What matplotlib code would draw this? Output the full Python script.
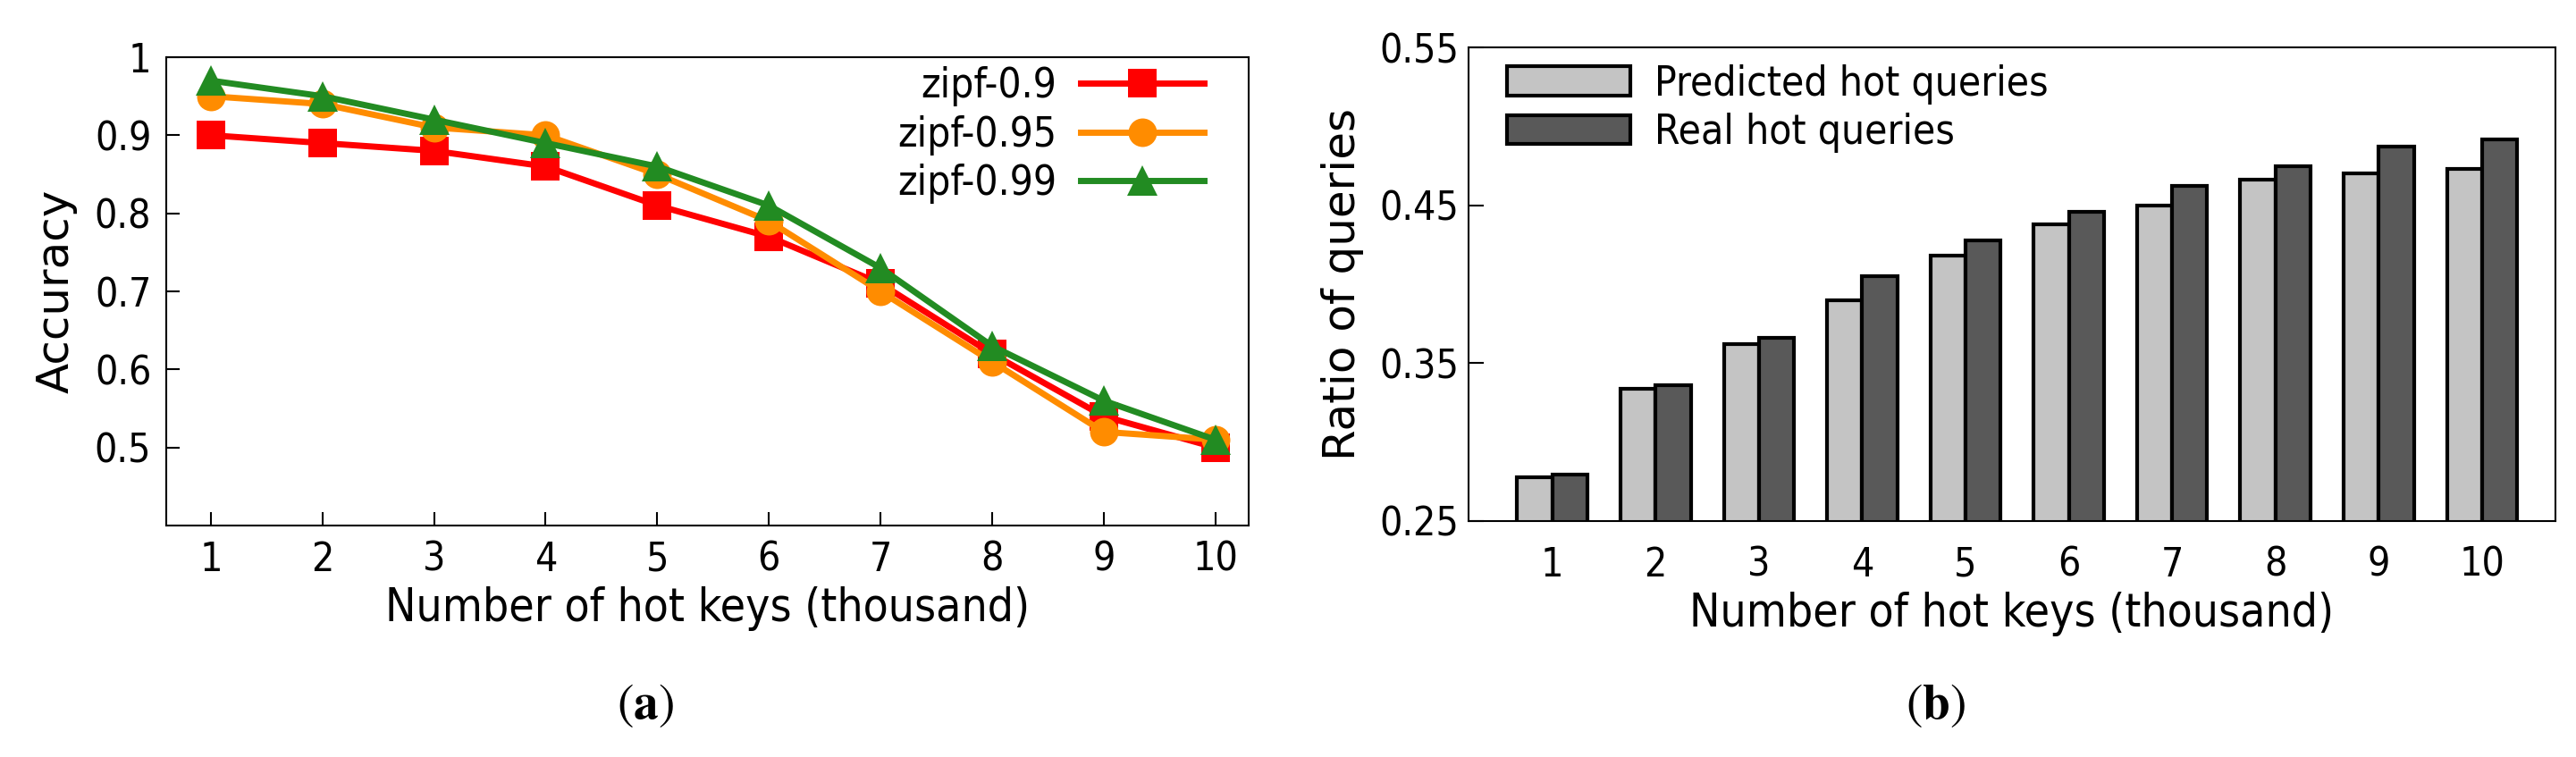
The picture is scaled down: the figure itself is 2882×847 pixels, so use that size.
import numpy as np
import matplotlib
matplotlib.use('Agg')
import matplotlib.pyplot as plt
from matplotlib import font_manager

plt.rcParams['font.family'] = ['DejaVu Sans']
plt.rcParams['mathtext.fontset'] = 'stix'

# data for panel (a)
hotkeys = [1, 2, 3, 4, 5, 6, 7, 8, 9, 10]
zipf_090 = [0.90, 0.89, 0.88, 0.86, 0.81, 0.77, 0.71, 0.62, 0.54, 0.50]
zipf_095 = [0.95, 0.94, 0.91, 0.90, 0.85, 0.79, 0.70, 0.61, 0.52, 0.51]
zipf_099 = [0.97, 0.95, 0.92, 0.89, 0.86, 0.81, 0.73, 0.63, 0.56, 0.51]
acc_ticks = [0.5, 0.6, 0.7, 0.8, 0.9, 1.0]
acc_ticklabels = ['0.5', '0.6', '0.7', '0.8', '0.9', '1']

# data for panel (b)
predicted = [0.278, 0.334, 0.362, 0.390, 0.418, 0.438, 0.450, 0.466, 0.470, 0.473]
real = [0.2795, 0.336, 0.366, 0.405, 0.428, 0.446, 0.462, 0.475, 0.487, 0.4915]
ratio_ticks = [0.25, 0.35, 0.45, 0.55]

# the gnuplot text looks like a condensed sans; use it if available
fp = font_manager.FontProperties(family='DejaVu Sans', stretch='condensed')
condensed = 'condensed' in font_manager.findfont(fp, fallback_to_default=True).lower()
if condensed:
    stretch = 'condensed'
    tickfs, labelfs, legfs = 32, 37, 33
else:
    stretch = 'normal'
    tickfs, labelfs, legfs = 29, 34, 30

W, H = 2882, 847
fig = plt.figure(figsize=(W/100., H/100.), dpi=100)

def px_axes(l, t, r, b):
    return fig.add_axes([l/W, 1-b/H, (r-l)/W, (b-t)/H])

def style_ticklabels(a):
    for lab in a.get_xticklabels() + a.get_yticklabels():
        lab.set_fontstretch(stretch)

# ---- panel (a) ----
ax = px_axes(186, 64, 1397, 588)
series = [(zipf_090, 'zipf-0.9', 'red', 's', 23),
          (zipf_095, 'zipf-0.95', 'darkorange', 'o', 23),
          (zipf_099, 'zipf-0.99', 'forestgreen', '^', 25)]
for vals, name, col, mk, ms in series:
    ax.plot(hotkeys, vals, color=col, marker=mk, markersize=ms, linewidth=5,
            markeredgewidth=0, label=name)
ax.set_xlim(0.6, 10.3)
ax.set_ylim(0.4, 1.0)
ax.set_xticks(hotkeys)
ax.set_yticks(acc_ticks)
ax.set_yticklabels(acc_ticklabels)
ax.tick_params(direction='in', length=11, width=1.5, labelsize=tickfs)
ax.tick_params(axis='x', pad=12)
ax.tick_params(axis='y', pad=12)
style_ticklabels(ax)
ax.set_xlabel('Number of hot keys (thousand)', fontsize=labelfs, labelpad=6,
              fontstretch=stretch)
ax.set_ylabel('Accuracy', fontsize=36, labelpad=14)
for s in ax.spines.values():
    s.set_linewidth(1.5)
leg = ax.legend(loc='upper right', bbox_to_anchor=(0.9587, 0.98), frameon=False,
                markerfirst=False, prop={'size': legfs, 'stretch': stretch},
                handlelength=3, handletextpad=0.6,
                labelspacing=0.2, borderpad=0, borderaxespad=0)

# ---- panel (b) ----
bx = px_axes(1643, 53, 2859, 583)
x = np.arange(1, len(predicted)+1)
w = 0.34
bx.bar(x - w/2, predicted, w, color='#c4c4c4', edgecolor='black', linewidth=3,
       label='Predicted hot queries')
bx.bar(x + w/2, real, w, color='#595959', edgecolor='black', linewidth=3,
       label='Real hot queries')
bx.set_xlim(0.19, 10.71)
bx.set_ylim(0.25, 0.55)
bx.set_xticks(x)
bx.set_yticks(ratio_ticks)
bx.set_yticklabels(['%.2f' % t for t in ratio_ticks])
bx.tick_params(direction='in', labelsize=tickfs)
bx.tick_params(axis='x', length=0, pad=20)
bx.tick_params(axis='y', length=12, width=1.5, pad=8)
style_ticklabels(bx)
bx.set_xlabel('Number of hot keys (thousand)', fontsize=labelfs, labelpad=6,
              fontstretch=stretch)
bx.set_ylabel('Ratio of queries', fontsize=36, labelpad=12)
for s in bx.spines.values():
    s.set_linewidth(1.5)
bx.legend(loc='upper left', bbox_to_anchor=(0.0354, 0.965), frameon=False,
          prop={'size': legfs, 'stretch': stretch}, handlelength=3,
          handleheight=0.7, handletextpad=0.6,
          labelspacing=0.2, borderpad=0, borderaxespad=0)

# captions
fig.text(722/W, 1-789/H, r'$(\mathbf{a})$', fontsize=40, ha='center', va='center')
fig.text(2166/W, 1-789/H, r'$(\mathbf{b})$', fontsize=40, ha='center', va='center')

fig.savefig('out.png', dpi=100)
